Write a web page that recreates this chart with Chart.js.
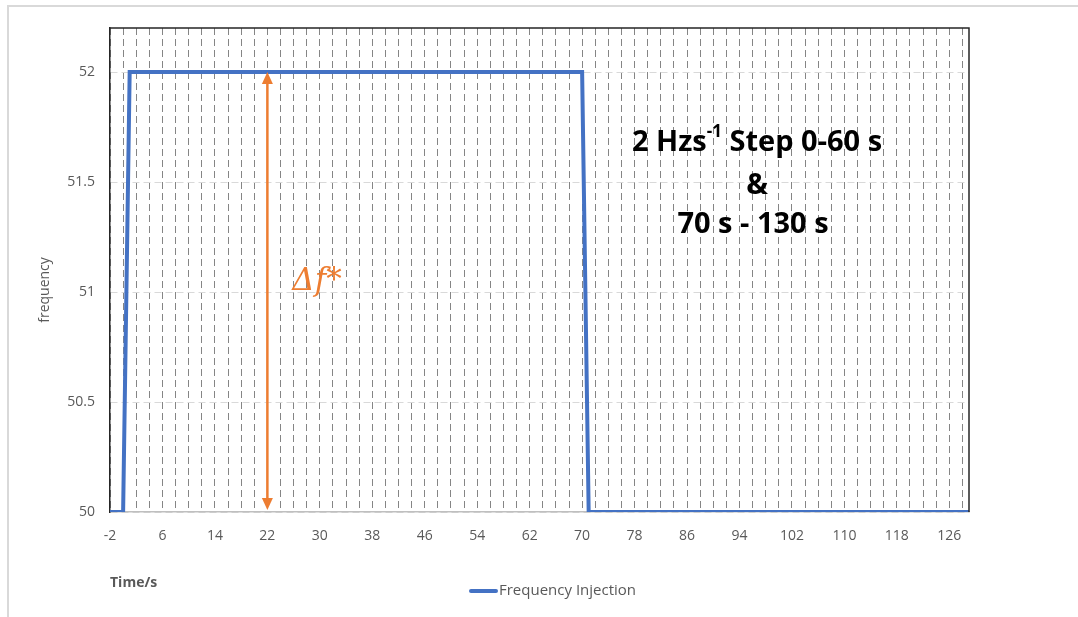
<!DOCTYPE html>
<html>
<head>
<meta charset="utf-8">
<script src="https://cdn.jsdelivr.net/npm/chart.js@4/dist/chart.umd.min.js"></script>
<style>
  html, body { margin: 0; padding: 0; background: #fff; }
  #wrap { position: relative; width: 1078px; height: 617px; overflow: hidden; }
  #frame { position: absolute; left: 7px; top: 5px; width: 1080px; height: 620px; border: 2px solid #d9d9d9; box-sizing: border-box; }
  canvas { position: absolute; left: 0; top: 0; }
</style>
</head>
<body>
<div id="wrap">
  <div id="frame"></div>
  <canvas id="c" width="1078" height="617"></canvas>
</div>
<script>
// data: corner points of the injected frequency profile (time in s, frequency in Hz)
const timeS = [-2, 0, 1, 70, 71, 129];
const freqHz = [50, 50, 52, 52, 50, 50];

// axes
const xMin = -2, xMax = 129, xGridStep = 2;
const xTickLabels = [-2, 6, 14, 22, 30, 38, 46, 54, 62, 70, 78, 86, 94, 102, 110, 118, 126];
const yMin = 50, yMax = 52.2;
const yTicks = [50, 50.5, 51, 51.5, 52];

// annotation
const arrowAt = 22;
const arrowFrom = 50, arrowTo = 52;
const noteLines = ['2 Hzs', '&', '70 s - 130 s'];

const grey = '#595959';
const blue = '#4472C4';
const orange = '#ED7D31';

// draws the arrow, labels, titles, frame and legend
const decor = {
  id: 'decor',
  afterDatasetsDraw(chart) {
    const ctx = chart.ctx;
    const x = chart.scales.x, y = chart.scales.y;
    const ax = x.getPixelForValue(arrowAt);
    const yTop = y.getPixelForValue(arrowTo), yBot = y.getPixelForValue(arrowFrom);
    ctx.save();
    ctx.strokeStyle = orange;
    ctx.fillStyle = orange;
    ctx.lineWidth = 2.5;
    ctx.beginPath();
    ctx.moveTo(ax, yTop + 8);
    ctx.lineTo(ax, yBot - 8);
    ctx.stroke();
    ctx.beginPath();
    ctx.moveTo(ax, yTop); ctx.lineTo(ax - 5.5, yTop + 12); ctx.lineTo(ax + 5.5, yTop + 12); ctx.closePath();
    ctx.fill();
    ctx.beginPath();
    ctx.moveTo(ax, yBot - 2); ctx.lineTo(ax - 5.5, yBot - 14); ctx.lineTo(ax + 5.5, yBot - 14); ctx.closePath();
    ctx.fill();

    ctx.font = 'italic 31px "DejaVu Serif"';
    ctx.textAlign = 'left';
    ctx.textBaseline = 'alphabetic';
    ctx.fillText('\u0394f*', ax + 25, 290);

    // step description
    ctx.fillStyle = '#000';
    const big = 'bold 29px "Open Sans"', small = 'bold 17px "Open Sans"';
    ctx.font = big;
    const a = noteLines[0], b = ' Step 0-60 s';
    const wa = ctx.measureText(a).width, wb = ctx.measureText(b).width;
    ctx.font = small;
    const ws = ctx.measureText('-1').width;
    const cx = 757;
    let sx = cx - (wa + ws + wb) / 2;
    ctx.font = big;
    ctx.fillText(a, sx, 151);
    ctx.font = small;
    ctx.fillText('-1', sx + wa, 137);
    ctx.font = big;
    ctx.fillText(b, sx + wa + ws, 151);
    ctx.textAlign = 'center';
    ctx.fillText(noteLines[1], cx, 194);
    ctx.fillText(noteLines[2], 753, 233);
    ctx.restore();
  },
  afterDraw(chart) {
    const ctx = chart.ctx;
    const a = chart.chartArea;
    ctx.save();
    ctx.strokeStyle = '#262626';
    ctx.lineWidth = 1.5;
    ctx.beginPath();
    ctx.moveTo(a.left, a.top);
    ctx.lineTo(a.right, a.top);
    ctx.lineTo(a.right, a.bottom);
    ctx.stroke();

    ctx.fillStyle = grey;
    ctx.font = 'bold 14px "Open Sans"';
    ctx.textAlign = 'left';
    ctx.textBaseline = 'middle';
    ctx.fillText('Time/s', a.left, 583);

    ctx.font = '14px "Open Sans"';
    ctx.save();
    ctx.translate(45, 290);
    ctx.rotate(-Math.PI / 2);
    ctx.textAlign = 'center';
    ctx.fillText('frequency', 0, 0);
    ctx.restore();

    const ds = chart.data.datasets[0];
    ctx.strokeStyle = ds.borderColor;
    ctx.lineWidth = 4;
    ctx.lineCap = 'round';
    ctx.beginPath();
    ctx.moveTo(471, 591);
    ctx.lineTo(496, 591);
    ctx.stroke();
    ctx.fillStyle = grey;
    ctx.font = '15px "Open Sans"';
    ctx.fillText(ds.label, 499, 591);
    ctx.restore();
  }
};

new Chart(document.getElementById('c'), {
  type: 'line',
  data: {
    datasets: [{
      label: 'Frequency Injection',
      data: timeS.map((t, i) => ({ x: t, y: freqHz[i] })),
      borderColor: blue,
      borderWidth: 4,
      borderJoinStyle: 'miter',
      pointRadius: 0,
      tension: 0,
      fill: false
    }]
  },
  options: {
    responsive: false,
    animation: false,
    layout: { padding: { left: 0, right: 109, top: 28, bottom: 0 } },
    plugins: { legend: { display: false }, tooltip: { enabled: false } },
    scales: {
      x: {
        type: 'linear',
        min: xMin,
        max: xMax,
        afterBuildTicks(scale) {
          const t = [];
          for (let v = xMin; v <= xMax; v += xGridStep) t.push({ value: v });
          scale.ticks = t;
        },
        afterFit(scale) { scale.height = 105; },
        ticks: {
          autoSkip: false,
          maxRotation: 0,
          padding: 16,
          color: grey,
          font: { family: 'Open Sans', size: 14 },
          callback: v => xTickLabels.includes(v) ? String(v) : ''
        },
        grid: { color: '#858585', lineWidth: 1, drawTicks: false },
        border: { color: '#bfbfbf', width: 1.5, dash: [7, 4] }
      },
      y: {
        min: yMin,
        max: yMax,
        afterBuildTicks(scale) { scale.ticks = yTicks.map(v => ({ value: v })); },
        afterFit(scale) { scale.width = 110; },
        ticks: {
          padding: 15,
          color: grey,
          font: { family: 'Open Sans', size: 14 },
          callback: v => String(v)
        },
        grid: { color: '#d9d9d9', lineWidth: 1, drawTicks: false },
        border: { color: '#262626', width: 1.5, dash: [7, 4] }
      }
    }
  },
  plugins: [decor]
});
</script>
</body>
</html>
